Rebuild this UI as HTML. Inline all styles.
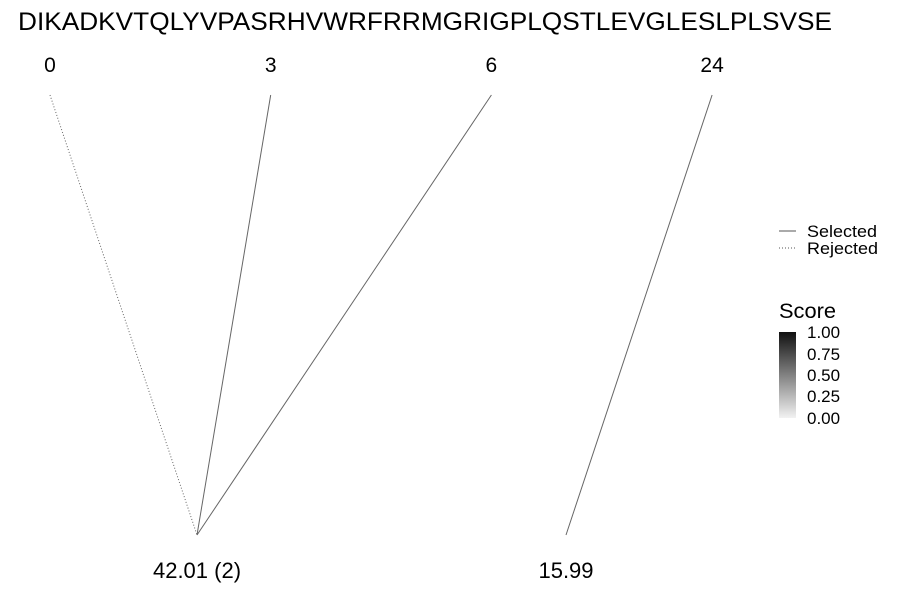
<!DOCTYPE html>
<html><head><meta charset="utf-8"><style>
body{margin:0;background:#fff;}
svg{font-family:"Liberation Sans",sans-serif;}
</style></head><body>
<svg id="c" width="900" height="600" xmlns="http://www.w3.org/2000/svg">
<defs><linearGradient id="g" x1="0" y1="1" x2="0" y2="0"><stop offset="0" stop-color="#f2f2f2"/><stop offset="1" stop-color="#111"/></linearGradient></defs>
<text x="18" y="30" font-size="25" textLength="814" lengthAdjust="spacingAndGlyphs">DIKADKVTQLYVPASRHVWRFRRMGRIGPLQSTLEVGLESLPLSVSE</text>
<g id="lines"></g>
<g>
<line x1="779" y1="231" x2="796" y2="231" stroke="#555" stroke-width="1"/>
<text x="807" y="237" font-size="17" textLength="70" lengthAdjust="spacingAndGlyphs">Selected</text>
<line x1="779" y1="248" x2="796" y2="248" stroke="#555" stroke-width="1" stroke-dasharray="1,2"/>
<text x="807" y="254" font-size="17" textLength="71" lengthAdjust="spacingAndGlyphs">Rejected</text>
<text x="779" y="318" font-size="21" textLength="57" lengthAdjust="spacingAndGlyphs">Score</text>
<rect x="779" y="332" width="17" height="86" fill="url(#g)"/>
<g font-size="17">
<text x="807" y="338">1.00</text><text x="807" y="360">0.75</text><text x="807" y="381">0.50</text><text x="807" y="402">0.25</text><text x="807" y="424">0.00</text>
</g>
</g>
</svg>
<script>
const topLabels=["0","3","6","24"];
const bottomLabels=["42.01 (2)","15.99"];
const edgeFrom=[0,1,2,3];
const edgeTo=[0,0,0,1];
const edgeSelected=[false,true,true,true];
const ns="http://www.w3.org/2000/svg";
const svg=document.getElementById('lines');
const topX=i=>50+i*220.7;
const botX=i=>197+i*369;
const topY=95,botY=535;
function mk(t,a){const e=document.createElementNS(ns,t);for(const k in a)e.setAttribute(k,a[k]);svg.appendChild(e);return e;}
topLabels.forEach((l,i)=>{const t=mk('text',{x:topX(i),y:72,'font-size':21,'text-anchor':'middle'});t.textContent=l;

});
bottomLabels.forEach((l,i)=>{const t=mk('text',{x:botX(i),y:578,'font-size':22,'text-anchor':'middle'});t.textContent=l;

});
edgeFrom.forEach((f,i)=>{const a={x1:topX(f),y1:topY,x2:botX(edgeTo[i]),y2:botY,stroke:'#666','stroke-width':1};
if(!edgeSelected[i])a['stroke-dasharray']='1,2';
const e=mk('line',a);

});
</script>
</body></html>
